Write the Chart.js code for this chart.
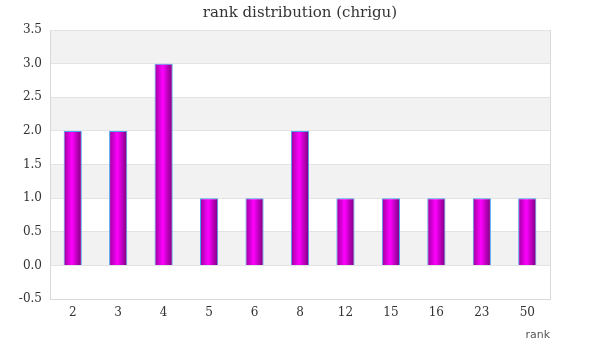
<!DOCTYPE html>
<html>
<head>
<meta charset="utf-8">
<script src="https://cdn.jsdelivr.net/npm/chart.js@4/dist/chart.umd.min.js"></script>
<style>
html,body{margin:0;padding:0;background:#fff;}
#wrap{width:600px;height:360px;}
</style>
</head>
<body>
<div id="wrap"><canvas id="c" width="600" height="360"></canvas></div>
<script>
const categories = ['2','3','4','5','6','8','12','15','16','23','50'];
const counts = [2,2,3,1,1,2,1,1,1,1,1];
const yMin = -0.5, yMax = 3.5, yStep = 0.5;
const chartTitle = 'rank distribution (chrigu)';
const xTitle = 'rank';

const BAR_FRACTION = 0.4;

const bandPlugin = {
  id: 'bands',
  beforeDraw(chart) {
    const {ctx, chartArea, scales} = chart;
    const y = scales.y;
    ctx.save();
    ctx.fillStyle = '#f2f2f2';
    for (let v = 0; v < yMax; v += 1) {
      const top = y.getPixelForValue(v + 0.5);
      const bot = y.getPixelForValue(v);
      ctx.fillRect(chartArea.left, top, chartArea.right - chartArea.left, bot - top);
    }
    ctx.restore();
  }
};

function barGradient(context) {
  const chart = context.chart;
  const xs = chart.scales.x;
  if (!xs || !chart.chartArea) return '#cc00cc';
  const cx = xs.getPixelForValue(context.dataIndex);
  const w = (chart.chartArea.right - chart.chartArea.left) / categories.length * BAR_FRACTION;
  const g = chart.ctx.createLinearGradient(cx - w / 2, 0, cx + w / 2, 0);
  g.addColorStop(0, '#9a009a');
  g.addColorStop(0.45, '#ff00ff');
  g.addColorStop(1, '#7a007a');
  return g;
}

new Chart(document.getElementById('c'), {
  type: 'bar',
  data: {
    labels: categories,
    datasets: [{
      data: counts,
      backgroundColor: barGradient,
      borderColor: '#4aa3f0',
      borderWidth: 1,
      categoryPercentage: 1,
      barPercentage: BAR_FRACTION,
      yAxisID: 'y'
    }]
  },
  options: {
    responsive: false,
    animation: false,
    layout: { padding: { left: 0, right: 0, top: 0, bottom: 10 } },
    plugins: {
      legend: { display: false },
      tooltip: { enabled: false },
      title: {
        display: true,
        text: chartTitle,
        color: '#333',
        font: { family: 'DejaVu Serif', size: 15, weight: 'normal' },
        padding: { top: 4, bottom: 8 }
      }
    },
    scales: {
      x: {
        grid: { display: false, drawTicks: false },
        border: { color: '#d9d9d9' },
        ticks: { color: '#333', font: { family: 'DejaVu Serif', size: 12 }, padding: 7 },
        title: {
          display: true, text: xTitle, align: 'end', color: '#555',
          font: { family: 'DejaVu Sans', size: 11 }, padding: { top: 4, bottom: 8 }
        },
        afterFit(scale) { scale.height = 51; }
      },
      y: {
        min: yMin, max: yMax,
        grid: { color: '#e3e3e3', drawTicks: false },
        border: { color: '#d9d9d9' },
        ticks: {
          stepSize: yStep, color: '#333', padding: 8,
          font: { family: 'DejaVu Serif', size: 12 },
          callback: v => Number(v).toFixed(1)
        },
        afterFit(scale) { scale.width = 50; }
      },
      y2: {
        position: 'right',
        min: yMin, max: yMax,
        grid: { display: false, drawTicks: false },
        border: { color: '#d9d9d9' },
        ticks: { display: false },
        afterFit(scale) { scale.width = 50; }
      }
    }
  },
  plugins: [bandPlugin]
});
</script>
</body>
</html>
